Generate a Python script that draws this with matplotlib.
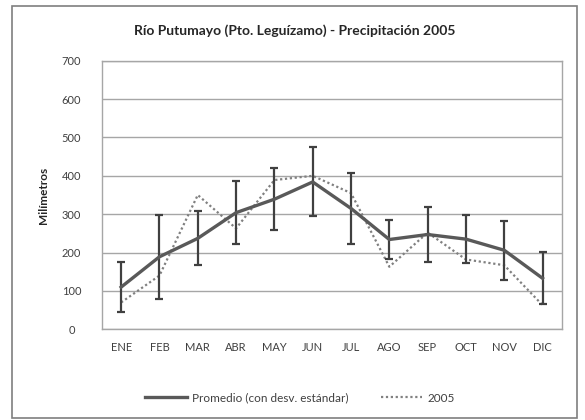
import matplotlib.pyplot as plt
from matplotlib.lines import Line2D
from matplotlib.patches import Rectangle

plt.rcParams["font.family"] = ["Lato", "DejaVu Sans"]

# ----------------- data --------------------------------------------- #
months = ["ENE", "FEB", "MAR", "ABR", "MAY", "JUN",
          "JUL", "AGO", "SEP", "OCT", "NOV", "DIC"]
promedio = [110, 189, 237, 304, 339, 384, 315, 234, 247, 235, 206, 133]
desv_std = [65, 110, 70, 82, 81, 90, 93, 50, 71, 62, 77, 68]
anio_2005 = [70, 140, 350, 263, 389, 400, 355, 163, 252, 182, 167, 63]

DARK = "#595959"
GRID = "#a6a6a6"
DOT = "#808080"

# ----------------- plot --------------------------------------------- #
fig = plt.figure(figsize=(5.85, 4.2), dpi=100)
W, H = 585, 420
ax = fig.add_axes([102 / W, 1 - 329.3 / H, (561.7 - 102) / W, (329.3 - 60.7) / H])

x = range(len(months))
ax.errorbar(x, promedio, yerr=desv_std, color=DARK, lw=2.4, capsize=3,
            capthick=1.6, elinewidth=1.6, ecolor="#404040", zorder=3)
ax.plot(x, anio_2005, color=DOT, lw=1.6, ls=(0, (1, 1.2)), zorder=2)

ax.set_xlim(-0.5, len(months) - 0.5)
ax.set_ylim(0, 700)
ax.set_yticks(range(0, 701, 100))
ax.set_xticks(list(x))
ax.set_xticklabels(months)
ax.tick_params(length=0, labelsize=8, labelcolor="#404040", pad=9)
ax.tick_params(axis="y", pad=22)
for lbl in ax.get_yticklabels():
    lbl.set_horizontalalignment("center")
ax.yaxis.grid(True, color=GRID, lw=1)
ax.set_axisbelow(True)
for s in ax.spines.values():
    s.set_color(GRID)
    s.set_linewidth(1)

ax.set_ylabel("Milímetros", fontsize=8.5, fontweight="bold", color="#262626",
              labelpad=9)

fig.text(295 / W, 1 - 31 / H, "Río Putumayo (Pto. Leguízamo) - Precipitación 2005",
         ha="center", va="center", fontsize=10, fontweight="bold",
         color="#262626")

handles = [Line2D([], [], color=DARK, lw=2.4),
           Line2D([], [], color=DOT, lw=1.6, ls=(0, (1, 1.2)))]
labels = ["Promedio (con desv. estándar)", "2005"]
leg = fig.legend(handles, labels, loc="center",
                 bbox_to_anchor=(300 / W, 1 - 398 / H), ncol=2,
                 frameon=False, fontsize=8.5, handlelength=3.5,
                 columnspacing=2.8, handletextpad=0.4)
for t in leg.get_texts():
    t.set_color("#404040")

# outer chart frame
fig.patches.append(Rectangle((12 / W, 2 / H), 565 / W, 412 / H,
                             transform=fig.transFigure, fill=False,
                             ec="#7f7f7f", lw=1.2))

fig.savefig("out.png", dpi=100)
